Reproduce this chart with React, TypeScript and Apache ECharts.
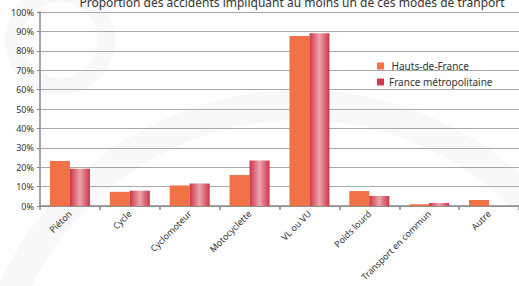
import React, { useEffect, useRef } from "react";
import * as echarts from "echarts";

const categories = ["Piéton", "Cycle", "Cyclomoteur", "Motocyclette", "VL ou VU", "Poids lourd", "Transport en commun", "Autre"];
const hautsDeFrance = [23.2, 7.3, 10.6, 16.0, 87.6, 7.7, 0.9, 3.1];
const franceMetro = [19.2, 7.9, 11.6, 23.5, 89.0, 5.2, 1.6, 0];
const title = "Proportion des accidents impliquant au moins un de ces modes de tranport";
const seriesNames = [" Hauts-de-France", "France métropolitaine"];

export default function App() {
  const ref = useRef<HTMLDivElement>(null);
  useEffect(() => {
    const chart = echarts.init(ref.current!, null, { renderer: "svg" });
    const font = "Noto Sans";
    const redGradient = () =>
      new echarts.graphic.LinearGradient(0, 0, 1, 0, [
        { offset: 0, color: "#CF3347" },
        { offset: 0.5, color: "#EAA6AE" },
        { offset: 1, color: "#CF3347" },
      ]);
    chart.setOption({
      animation: false,
      backgroundColor: "#ffffff",
      textStyle: { fontFamily: font },
      title: {
        text: title,
        left: 287,
        textAlign: "center",
        top: -9,
        textStyle: { fontSize: 12, fontWeight: "normal", color: "#333", fontFamily: font },
      },
      graphic: [
        { type: "ring", shape: { cx: 60, cy: 40, r: 55, r0: 38 }, style: { fill: "#f8f8fa" }, z: -10, silent: true },
        { type: "ring", shape: { cx: 300, cy: 420, r: 330, r0: 300 }, style: { fill: "#f8f8fa" }, z: -10, silent: true },
      ],
      legend: {
        orient: "vertical",
        left: 372,
        top: 56,
        itemWidth: 7,
        itemHeight: 7,
        itemGap: 6,
        icon: "rect",
        textStyle: { fontSize: 10, color: "#333", fontFamily: font },
        data: [
          { name: seriesNames[0], itemStyle: { color: "#F27248" } },
          { name: seriesNames[1], itemStyle: { color: "#D23A4C" } },
        ],
      },
      grid: { left: 40, right: 0, top: 12, bottom: 80, containLabel: false },
      xAxis: {
        type: "category",
        data: categories,
        axisLine: { lineStyle: { color: "#888", width: 1.5 } },
        axisTick: { show: true, length: 4, alignWithLabel: false, lineStyle: { color: "#888", width: 1.5 } },
        axisLabel: { rotate: 45, fontSize: 9, color: "#333", margin: 6, interval: 0, fontFamily: font },
      },
      yAxis: {
        type: "value",
        min: 0,
        max: 100,
        interval: 10,
        axisLine: { show: true, lineStyle: { color: "#888", width: 1.5 } },
        axisTick: { show: true, length: 3, lineStyle: { color: "#888" } },
        axisLabel: { formatter: "{value}%", fontSize: 9, color: "#333", margin: 6, fontFamily: font },
        splitLine: { lineStyle: { color: "#a8a8a8", width: 1.2 } },
      },
      series: [
        {
          name: seriesNames[0],
          type: "bar",
          data: hautsDeFrance,
          barWidth: 20,
          barGap: "0%",
          itemStyle: { color: "#F27248" },
        },
        {
          name: seriesNames[1],
          type: "bar",
          data: franceMetro.map((v) => ({ value: v, itemStyle: { color: redGradient() } })),
          barWidth: 20,
          itemStyle: { color: "#D23A4C" },
        },
      ],
    });
    return () => chart.dispose();
  }, []);
  return <div ref={ref} style={{ width: 519, height: 286, position: "absolute", left: 0, top: 0 }} />;
}
